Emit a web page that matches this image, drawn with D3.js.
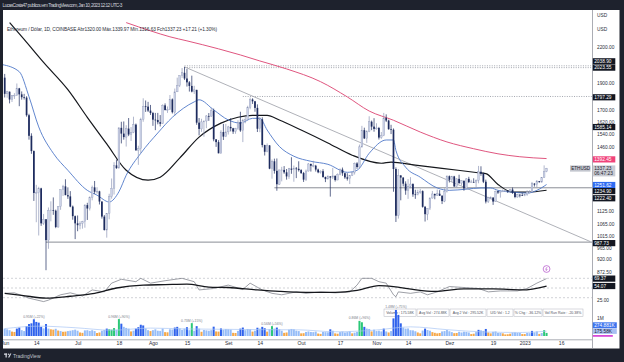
<!DOCTYPE html>
<html><head><meta charset="utf-8">
<script src="https://cdn.jsdelivr.net/npm/d3@7"></script>
<style>
html,body{margin:0;padding:0;background:#1e222d;overflow:hidden;}
svg{display:block;font-family:"Liberation Sans",Arial,sans-serif;}
</style></head><body>
<svg id="c" width="624" height="362"></svg>
<script>
// ---------------- DATA ----------------
const startDay = "2022-06-01"; // first daily candle
const open = [
1942,1817,1833,1775,1805,1806,1858,1813,1792,1789,1664,1529,1436,1209,1210,1232,1067,1085,996,1126,1127,1124,1051,1143,1226,1242,1198,1192,1143,1099,
1067,1059,1067,1074,1150,1134,1186,1237,1215,1217,1167,1097,1038,1112,1190,1232,1354,1339,1580,1543,1521,1575,1537,1550,1601,1440,1451,1636,1726,1724,1696,
1679,1634,1632,1617,1607,1733,1700,1703,1776,1685,1832,1880,1958,1981,1935,1905,1877,1834,1847,1614,1573,1619,1625,1659,1658,1695,1507,1490,1423,1553,1524,
1554,1586,1577,1556,1576,1617,1563,1630,1636,1718,1775,1762,1715,1574,1636,1472,1432,1470,1336,1377,1324,1253,1329,1329,1316,1294,1336,1330,1337,1335,
1328,1312,1277,1323,1362,1352,1352,1331,1316,1322,1291,1280,1294,1288,1297,1275,1306,1331,1311,1289,1282,1299,1315,1365,1345,1461,1565,1513,1555,1620,1588,
1573,1579,1518,1531,1645,1628,1571,1568,1334,1101,1299,1288,1256,1221,1243,1254,1202,1201,1212,1218,1142,1108,1135,1184,1204,1197,1205,1195,1169,1217,
1295,1276,1294,1242,1281,1259,1271,1232,1281,1264,1265,1264,1274,1319,1309,1266,1167,1186,1186,1167,1218,1211,1217,1219,1220,1218,1226,1211,1189,1200,1198,
1196,1200,1214,1214,1256,1251,1269,1264,1287,1320];
const high = [
1972,1840,1834,1807,1822,1896,1862,1835,1817,1799,1674,1545,1440,1250,1240,1235,1109,1086,1139,1168,1187,1129,1145,1226,1250,1279,1237,1218,1148,1102,
1102,1076,1078,1154,1161,1192,1246,1270,1238,1220,1168,1104,1113,1205,1283,1372,1387,1583,1620,1622,1597,1645,1585,1654,1608,1468,1647,1784,1768,1758,1736,
1687,1680,1680,1665,1740,1747,1725,1808,1783,1857,1942,1960,2020,2030,2013,1915,1958,1878,1847,1645,1640,1628,1665,1679,1718,1710,1509,1502,1565,1606,1606,
1593,1644,1580,1580,1630,1688,1640,1655,1730,1790,1784,1765,1740,1652,1650,1474,1482,1472,1387,1392,1393,1330,1346,1350,1334,1340,1400,1353,1345,1377,
1333,1318,1331,1367,1364,1380,1357,1336,1327,1333,1293,1300,1296,1340,1299,1310,1337,1342,1314,1311,1302,1317,1370,1372,1475,1593,1581,1564,1657,1628,1644,
1610,1586,1553,1680,1670,1634,1600,1576,1343,1334,1301,1289,1268,1280,1290,1258,1225,1225,1229,1222,1146,1136,1187,1219,1206,1226,1223,1198,1232,1300,
1299,1297,1297,1284,1303,1274,1272,1285,1292,1276,1284,1278,1351,1349,1314,1277,1190,1192,1188,1220,1220,1220,1227,1224,1222,1228,1236,1213,1204,1203,1208,
1203,1222,1222,1265,1259,1275,1270,1290,1354,1339.97];
const low = [
1790,1788,1747,1757,1779,1803,1727,1774,1775,1654,1505,1420,1170,1072,1015,1056,1060,880,961,1076,1105,1046,1048,1128,1194,1198,1180,1140,1083,1000,
1033,1041,1044,1048,1082,1125,1173,1204,1205,1153,1088,1036,1006,1085,1181,1201,1335,1338,1482,1505,1463,1527,1497,1546,1440,1357,1424,1620,1687,1686,1666,
1593,1565,1603,1589,1606,1697,1680,1700,1676,1660,1830,1868,1940,1923,1872,1834,1828,1816,1600,1532,1554,1523,1578,1626,1653,1495,1461,1423,1422,1503,1521,
1537,1557,1541,1542,1567,1554,1490,1610,1635,1705,1743,1688,1553,1552,1458,1410,1429,1333,1282,1309,1220,1249,1268,1308,1277,1281,1308,1266,1285,1320,
1307,1265,1270,1320,1320,1343,1320,1311,1309,1287,1264,1279,1191,1280,1267,1274,1300,1297,1281,1272,1254,1296,1304,1335,1338,1456,1509,1485,1552,1565,1555,
1568,1506,1510,1527,1618,1568,1540,1215,1073,1088,1173,1242,1200,1180,1233,1190,1180,1197,1205,1138,1075,1081,1127,1181,1178,1194,1194,1155,1164,1211,
1262,1264,1239,1240,1255,1246,1220,1226,1259,1262,1261,1239,1258,1297,1259,1158,1160,1178,1151,1166,1204,1186,1213,1216,1209,1213,1204,1183,1186,1187,1194,
1193,1195,1207,1213,1241,1238,1261,1262,1286,1316.63];
const close = [
1817,1833,1775,1805,1806,1858,1813,1792,1789,1664,1529,1436,1209,1210,1232,1067,1085,996,1126,1127,1124,1051,1143,1226,1242,1198,1192,1143,1099,1067,
1059,1067,1074,1150,1134,1186,1237,1215,1217,1167,1097,1038,1112,1190,1232,1354,1339,1580,1543,1521,1575,1537,1550,1601,1440,1451,1636,1726,1724,1696,1679,
1634,1632,1617,1607,1733,1700,1703,1776,1685,1832,1880,1958,1981,1935,1905,1877,1834,1847,1614,1573,1619,1625,1659,1658,1695,1507,1490,1423,1553,1524,1554,
1586,1577,1556,1576,1617,1563,1630,1636,1718,1775,1762,1715,1574,1636,1472,1432,1470,1336,1377,1324,1253,1329,1329,1316,1294,1336,1330,1337,1335,1328,
1312,1277,1323,1362,1352,1352,1331,1316,1322,1291,1280,1294,1288,1297,1275,1306,1331,1311,1289,1282,1299,1315,1365,1345,1461,1565,1513,1555,1620,1588,1573,
1579,1518,1531,1645,1628,1571,1568,1334,1101,1299,1288,1256,1221,1243,1254,1202,1201,1212,1218,1142,1108,1135,1184,1204,1197,1205,1195,1169,1217,1295,
1276,1294,1242,1281,1259,1271,1232,1281,1264,1265,1264,1274,1319,1309,1266,1167,1186,1186,1167,1218,1211,1217,1219,1220,1218,1226,1211,1189,1200,1198,1196,
1200,1214,1214,1256,1251,1269,1264,1287,1321,1337.23];
// daily volume (thousands of ETH)
const volume = [
420,380,330,250,230,420,480,330,280,560,680,720,950,800,760,520,430,680,420,380,360,410,310,280,240,250,280,300,330,360,
300,200,180,320,330,290,330,280,170,200,300,340,420,380,360,450,350,960,700,520,460,420,260,300,420,500,640,600,430,330,280,
330,380,300,290,420,220,210,380,370,480,520,430,350,420,500,330,730,300,560,420,240,340,320,300,330,530,260,250,430,350,390,
380,360,180,170,290,420,480,330,400,380,250,300,470,420,520,440,250,380,560,420,480,380,300,180,200,360,400,380,300,280,
150,160,230,260,230,220,250,140,120,230,220,210,380,300,150,130,220,250,200,220,260,150,190,230,860,780,520,420,400,260,360,
280,300,260,420,260,200,280,1000,1480,1200,720,480,420,430,330,320,270,200,150,310,420,340,300,220,180,150,170,260,280,340,
270,220,160,170,240,200,240,230,200,110,130,220,350,320,290,400,200,150,240,260,170,170,150,90,100,130,190,200,170,170,110,
110,170,160,290,200,260,120,170,330,175.58];
// volume bar tone: l light blue, d dark blue, g green, o orange
const volTone =
"lllooddlld"+"ddddddldlo"+"ololoollll"+
"loollllloo"+"lldggglgdl"+"llolddddll"+"o"+
"llllloolld"+"dllldlgldl"+"olllldoodl"+"l"+
"lloolddlll"+"oldlddolgl"+"dlloolllll"+
"oolllllool"+"lldloollll"+"lollggdllo"+"l"+
"llldlolddd"+"dllllllool"+"dlloooolll"+
"lloolllllo"+"oldlldooll"+"lloooollll"+"o"+
"olldllolgg";
const volAvg = [["2022-06-01",420],["2022-06-15",560],["2022-06-30",470],["2022-07-15",330],["2022-07-31",450],["2022-08-15",400],
["2022-08-31",380],["2022-09-15",360],["2022-09-30",350],["2022-10-15",240],["2022-10-31",330],["2022-11-15",520],["2022-11-30",360],
["2022-12-15",230],["2022-12-31",200],["2023-01-10",274.88]];
const volNotes = [["2022-06-13","0.95M (+22%)"],["2022-07-18","0.96M (+90%)"],["2022-08-17","0.73M (+15%)"],
["2022-09-19","0.56M (+56%)"],["2022-10-25","0.86M (+96%)"],["2022-11-09","1.48M (+75%)"]];
const volInfo = ["Volume : 175.58K","Avg Vol : 274.88K","Avg 2 Vol : 295.52K","U/D Vol : 1.2","% Chg : -36.12%","Vol Run Rate : -20.38%"];

// moving averages
const sma20 = [["2022-05-31",2049],["2022-06-07",1990],["2022-06-11",1796],["2022-06-15",1586],["2022-06-21",1423],["2022-06-27",1327],
["2022-07-05",1222],["2022-07-09",1198],["2022-07-14",1165],["2022-07-18",1215],["2022-07-21",1300],["2022-07-27",1423],["2022-08-03",1547],
["2022-08-09",1650],["2022-08-18",1758],["2022-08-20",1773],["2022-08-26",1701],["2022-09-01",1632],["2022-09-06",1611],["2022-09-11",1643],
["2022-09-14",1643],["2022-09-17",1566],["2022-09-22",1464],["2022-09-28",1406],["2022-10-05",1377],["2022-10-12",1360],["2022-10-20",1316],
["2022-10-24",1327],["2022-10-29",1423],["2022-11-05",1503],["2022-11-08",1503],["2022-11-09",1440],["2022-11-13",1344],["2022-11-19",1290],
["2022-11-26",1234],["2022-12-01",1222],["2022-12-08",1228],["2022-12-14",1234],["2022-12-18",1234],["2022-12-21",1222],["2022-12-27",1213],
["2023-01-02",1208],["2023-01-06",1222],["2023-01-10",1251.62]];
const sma50 = [["2022-06-03",2435],["2022-06-09",2272],["2022-06-17",2067],["2022-06-27",1848],["2022-07-05",1650],["2022-07-13",1479],
["2022-07-21",1327],["2022-07-30",1274],["2022-08-04",1290],["2022-08-12",1395],["2022-08-20",1521],["2022-08-29",1611],["2022-09-05",1650],
["2022-09-11",1663],["2022-09-17",1663],["2022-09-22",1632],["2022-10-01",1566],["2022-10-12",1485],["2022-10-22",1412],["2022-11-03",1366],
["2022-11-07",1372],["2022-11-17",1355],["2022-11-28",1338],["2022-12-12",1315],["2022-12-16",1309],["2022-12-21",1252],["2022-12-27",1213],
["2023-01-02",1213],["2023-01-10",1222.40]];
const sma200 = [["2022-07-21",2435],["2022-07-31",2354],["2022-08-08",2297],["2022-08-15",2259],["2022-08-28",2186],["2022-09-06",2132],
["2022-09-14",2080],["2022-09-25",2013],["2022-10-09",1910],["2022-10-20",1794],["2022-10-29",1693],["2022-11-08",1630],["2022-11-19",1553],
["2022-11-30",1491],["2022-12-11",1450],["2022-12-21",1420],["2022-12-30",1403],["2023-01-10",1392.45]];
const rsi = [["2022-06-01",39],["2022-06-05",40],["2022-06-11",29],["2022-06-17",22],["2022-06-19",25],["2022-06-24",36],["2022-06-28",40],
["2022-07-03",33.5],["2022-07-07",46],["2022-07-12",42],["2022-07-15",60],["2022-07-19",68],["2022-07-25",63],["2022-07-27",70],["2022-07-31",60],
["2022-08-06",65],["2022-08-13",70],["2022-08-18",63],["2022-08-20",46],["2022-08-26",49],["2022-09-01",56],["2022-09-07",47],["2022-09-10",60],
["2022-09-15",46],["2022-09-19",39],["2022-09-23",36],["2022-09-29",42],["2022-10-03",39],["2022-10-09",42],["2022-10-15",40],["2022-10-21",42],
["2022-10-24",56],["2022-10-26",70],["2022-10-30",70],["2022-11-02",63],["2022-11-05",60],["2022-11-08",36],["2022-11-09",32],["2022-11-10",42],
["2022-11-15",39],["2022-11-19",42],["2022-11-22",36],["2022-11-26",42],["2022-12-01",53],["2022-12-07",51],["2022-12-13",49],["2022-12-17",42],
["2022-12-22",44],["2022-12-29",44],["2023-01-02",49],["2023-01-06",60],["2023-01-10",69.37]];
const rsiMA = [["2022-06-01",39],["2022-06-08",35],["2022-06-18",29],["2022-06-28",33],["2022-07-08",39],["2022-07-17",50],["2022-07-28",56],
["2022-08-06",57],["2022-08-15",58],["2022-08-24",52],["2022-09-01",51],["2022-09-13",46],["2022-09-22",43],["2022-10-03",41],["2022-10-15",41],
["2022-10-24",45],["2022-11-02",55],["2022-11-08",53],["2022-11-16",47],["2022-11-25",43],["2022-12-07",48],["2022-12-19",48],["2022-12-31",46],
["2023-01-10",54.07]];

// drawings
const trendLine = [["2022-08-14",2030],["2023-01-28",990]];
const hLines = [{v:987.73,from:"2022-06-18",dash:false},{v:1234.90,from:"2022-09-20",dash:false},
{v:2038.90,from:"2022-08-14",dash:true},{v:2023.55,from:"2022-08-14",dash:true},{v:1797.29,from:"2022-09-07",dash:true}];

// axes
const priceTicks = [2200,1900,1700,1620,1540,1460,1125,1065,1015,965,920,872.5];
const rsiTicks = [25];
const volTicks = [1000];
const timeTicks = ["2022-06-01","2022-06-14","2022-07-01","2022-07-18","2022-08-01","2022-08-15","2022-09-01","2022-09-14",
"2022-10-01","2022-10-17","2022-11-01","2022-11-14","2022-12-01","2022-12-19","2023-01-01","2023-01-16"];
const timeLabels = ["Jun","14","Jul","18","Ago","15","Set","14","Out","17","Nov","14","Dez","19","2023","16"];
const priceBoxes = [
 {v:2038.90,bg:"#131722",fg:"#fff",nudge:-4.5},{v:2023.55,bg:"#131722",fg:"#fff",nudge:0},
 {v:1797.29,bg:"#131722",fg:"#fff",nudge:0.8},{v:1585.14,bg:"#131722",fg:"#fff",nudge:0},
 {v:1392.45,bg:"#f0437a",fg:"#fff",nudge:0.8},{v:1251.62,bg:"#2f6cf2",fg:"#fff",nudge:0.5},
 {v:1234.90,bg:"#131722",fg:"#fff",nudge:3.3},{v:1222.40,bg:"#131722",fg:"#fff",nudge:8},
 {v:987.73,bg:"#131722",fg:"#fff",nudge:1}];
const lastPrice = 1337.23, countdown = "06:47:23";
const titleText = "LucasCosta47 publicou em TradingView.com, Jan 10, 2023 12:12 UTC-3";
const legendText = "Ethereum / Dólar, 1D, COINBASE  Abr1320.00  Máx.1339.97  Mín.1316.63  Fch1337.23  +17.21 (+1.30%)";

// ---------------- DRAW ----------------
const P = d3.utcParse("%Y-%m-%d");
const svg = d3.select("#c");
const dark = "#1e222d";
const L = 3, R = 592, W = 619.5;
svg.append("rect").attr("width",624).attr("height",362).attr("fill",dark);
svg.append("rect").attr("x",L).attr("y",10).attr("width",W-L).attr("height",338.5).attr("fill","#fff");

const x = d3.scaleUtc().domain([P("2022-06-01"),P("2023-01-01")]).range([4.7,524.7]);
const y = d3.scaleLog().domain([2200,872.5]).range([47.3,272.3]);
const yR = d3.scaleLinear().domain([70,30]).range([278.3,297.7]);
const yV = d3.scaleLinear().domain([0,1000]).range([336,318.4]);

const defs = svg.append("defs");
function clip(id,y0,y1){defs.append("clipPath").attr("id",id).append("rect").attr("x",L).attr("y",y0).attr("width",R-L).attr("height",y1-y0);}
clip("cp",10,276); clip("cr",276,305); clip("cv",302,339.5);

const dates = open.map((_,i)=>d3.utcDay.offset(P(startDay),i));

// ----- price pane
const gp = svg.append("g").attr("clip-path","url(#cp)");
hLines.forEach(h=>{
  gp.append("line").attr("x1",x(P(h.from))).attr("x2",R).attr("y1",y(h.v)).attr("y2",y(h.v))
    .attr("stroke",h.dash?"#8e929c":"#8a8d96").attr("stroke-width",h.dash?0.8:1)
    .attr("stroke-dasharray",h.dash?"1,1.4":null);
});
gp.append("line").attr("x1",x(P(trendLine[0][0]))).attr("y1",y(trendLine[0][1]))
  .attr("x2",x(P(trendLine[1][0]))).attr("y2",y(trendLine[1][1])).attr("stroke","#9a9da6").attr("stroke-width",0.8);

const lineP = d3.line().x(d=>x(P(d[0]))).y(d=>y(d[1])).curve(d3.curveMonotoneX);
gp.append("path").attr("d",lineP(sma200)).attr("fill","none").attr("stroke","#e0567f").attr("stroke-width",1);
gp.append("path").attr("d",lineP(sma50)).attr("fill","none").attr("stroke","#15171c").attr("stroke-width",1.2);
gp.append("path").attr("d",lineP(sma20)).attr("fill","none").attr("stroke","#4f78c8").attr("stroke-width",0.9);

const bw = 1.7;
const cg = gp.append("g");
cg.selectAll("line").data(dates).join("line")
  .attr("x1",d=>x(d)).attr("x2",d=>x(d))
  .attr("y1",(d,i)=>y(high[i])).attr("y2",(d,i)=>y(low[i]))
  .attr("stroke",(d,i)=>close[i]>=open[i]?"#8e97b6":"#1d2b5e").attr("stroke-width",0.7);
cg.selectAll("rect").data(dates).join("rect")
  .attr("x",d=>x(d)-bw/2).attr("width",bw)
  .attr("y",(d,i)=>y(Math.max(open[i],close[i])))
  .attr("height",(d,i)=>Math.max(0.7,Math.abs(y(open[i])-y(close[i]))))
  .attr("fill",(d,i)=>close[i]>=open[i]?"#cdd3e8":"#1d2b5e")
  .attr("stroke",(d,i)=>close[i]>=open[i]?"#8e97b6":"none").attr("stroke-width",0.35);

// ----- RSI pane
const gr = svg.append("g").attr("clip-path","url(#cr)");
[70,50,30].forEach(v=>gr.append("line").attr("x1",L).attr("x2",R).attr("y1",yR(v)).attr("y2",yR(v))
   .attr("stroke","#b2b5be").attr("stroke-width",0.6).attr("stroke-dasharray","2,2"));
const lineR = d3.line().x(d=>x(P(d[0]))).y(d=>yR(d[1]));
gr.append("path").attr("d",lineR(rsi)).attr("fill","none").attr("stroke","#5d606b").attr("stroke-width",0.6);
gr.append("path").attr("d",lineR.curve(d3.curveMonotoneX)(rsiMA)).attr("fill","none").attr("stroke","#15171c").attr("stroke-width",1.3);
const ic = svg.append("g").attr("transform",`translate(${x(dates[dates.length-1])},269)`);
ic.append("circle").attr("r",3.4).attr("fill","#fff").attr("stroke","#b04cc8").attr("stroke-width",0.7);
ic.append("path").attr("d","M0.6,-2 L-1,0.3 L0.6,0.3 L-0.6,2").attr("fill","none").attr("stroke","#b04cc8").attr("stroke-width",0.6);

// ----- volume pane
const gv = svg.append("g").attr("clip-path","url(#cv)");
const cellW = [33,33,37,27,29,41];
let cx = 384;
volInfo.forEach((t,i)=>{
  gv.append("rect").attr("x",cx).attr("y",309).attr("width",cellW[i]-1).attr("height",7.5)
    .attr("fill","#fff").attr("stroke","#b2b5be").attr("stroke-width",0.5);
  gv.append("text").attr("x",cx+(cellW[i]-1)/2).attr("y",314.2).attr("text-anchor","middle")
    .attr("font-size",3.5).attr("fill","#50535e").text(t);
  cx += cellW[i];
});
const toneCol = {l:"#96bdf8",d:"#2f62ec",g:"#2bc878",o:"#f5a84a"};
gv.selectAll("rect.v").data(dates).join("rect").attr("class","v")
  .attr("x",d=>x(d)-1).attr("width",2)
  .attr("y",(d,i)=>yV(volume[i])).attr("height",(d,i)=>yV(0)-yV(volume[i]))
  .attr("fill",(d,i)=>toneCol[volTone[i]]);
gv.append("path").attr("d",d3.line().x(d=>x(P(d[0]))).y(d=>yV(d[1])).curve(d3.curveMonotoneX)(volAvg))
  .attr("fill","none").attr("stroke","#a9c6f5").attr("stroke-width",0.7);
volNotes.forEach(n=>{
  const i = d3.utcDay.count(P(startDay),P(n[0]));
  gv.append("text").attr("x",x(P(n[0]))).attr("y",yV(volume[i])-1.6).attr("text-anchor","middle")
    .attr("font-size",3.4).attr("fill","#7b7e89").text(n[1]);
});

// ----- frame lines
svg.append("line").attr("x1",R+0.5).attr("x2",R+0.5).attr("y1",10).attr("y2",348.5).attr("stroke","#9598a1").attr("stroke-width",0.8);
svg.append("line").attr("x1",L).attr("x2",R).attr("y1",339.8).attr("y2",339.8).attr("stroke","#9598a1").attr("stroke-width",0.8);

// ----- right axis ticks
const fs = 4.8;
function tickG(scale, vals, fmt){
  const ax = d3.axisRight(scale).tickValues(vals).tickSize(0).tickPadding(0).tickFormat(fmt);
  const g = svg.append("g").attr("transform",`translate(597,0)`).call(ax);
  g.select(".domain").remove();
  g.selectAll("text").attr("font-size",fs).attr("fill","#2a2e39").attr("font-family","Liberation Sans, Arial, sans-serif");
}
tickG(y, priceTicks, d3.format(".2f"));
tickG(yR, rsiTicks, d3.format(".2f"));
tickG(yV, volTicks, d=>(d/1000)+"M");
[15.7,29].forEach(t=>svg.append("text").attr("x",597).attr("y",t+1.7).attr("font-size",fs).attr("fill","#2a2e39").text("USD"));

function box(yc, txt, bg, fg, w, h){
  svg.append("rect").attr("x",592.8).attr("y",yc-(h||6.2)/2).attr("width",w||22.5).attr("height",h||6.2).attr("fill",bg);
  svg.append("text").attr("x",594.2).attr("y",yc+1.7).attr("font-size",fs).attr("fill",fg).text(txt);
}
priceBoxes.forEach(b=>box(y(b.v)+b.nudge, d3.format(".2f")(b.v), b.bg, b.fg));
const yl = y(lastPrice);
svg.append("rect").attr("x",592.8).attr("y",yl-3).attr("width",22.5).attr("height",11).attr("fill","#c9ccd4");
svg.append("text").attr("x",594.2).attr("y",yl+1.7).attr("font-size",fs).attr("fill","#1e222d").text(d3.format(".2f")(lastPrice));
svg.append("text").attr("x",594.2).attr("y",yl+6.6).attr("font-size",fs).attr("fill","#1e222d").text(countdown);
svg.append("rect").attr("x",570).attr("y",yl-3).attr("width",20.5).attr("height",6.2).attr("fill","#c3c6ce");
svg.append("text").attr("x",571.2).attr("y",yl+1.7).attr("font-size",4.6).attr("fill","#1e222d").text("ETHUSD");
box(yR(rsi[rsi.length-1][1]), d3.format(".2f")(rsi[rsi.length-1][1]), "#131722", "#fff");
box(yR(rsiMA[rsiMA.length-1][1]), d3.format(".2f")(rsiMA[rsiMA.length-1][1]), "#131722", "#fff");
box(325.3, "274.881K", "#3d74ee", "#fff", 24, 6);
box(331.2, "175.58K", "#a9bff2", "#1e222d", 24, 5.4);
svg.append("rect").attr("x",592.8).attr("y",335).attr("width",20).attr("height",1.8).attr("fill","#d64bd8");

// ----- time axis
const tx = d3.axisBottom(x).tickValues(timeTicks.map(P)).tickSize(0).tickPadding(0).tickFormat((d,i)=>timeLabels[i]);
const gt = svg.append("g").attr("transform","translate(0,340.5)").call(tx);
gt.select(".domain").remove();
gt.selectAll("text").attr("font-size",5).attr("fill","#2a2e39").attr("dy","0.9em").attr("font-family","Liberation Sans, Arial, sans-serif");

// ----- texts
svg.append("text").attr("x",2.5).attr("y",7).attr("font-size",4.8).attr("fill","#d1d4dc").attr("textLength",120).text(titleText);
svg.append("text").attr("x",7).attr("y",31).attr("font-size",4.8).attr("fill","#2a2e39").attr("textLength",210).text(legendText);
const lg = svg.append("g").attr("transform","translate(4,353.5)");
lg.append("rect").attr("x",0).attr("y",0).attr("width",3).attr("height",1.3).attr("fill","#d1d4dc");
lg.append("rect").attr("x",1.5).attr("y",0).attr("width",1.3).attr("height",4).attr("fill","#d1d4dc");
lg.append("circle").attr("cx",4.4).attr("cy",0.7).attr("r",0.7).attr("fill","#d1d4dc");
lg.append("path").attr("d","M4,4 L6,0 L7.4,0 L5.4,4Z").attr("fill","#d1d4dc");
svg.append("text").attr("x",13).attr("y",357.6).attr("font-size",5).attr("fill","#c3c6ce").text("TradingView");
</script></body></html>
